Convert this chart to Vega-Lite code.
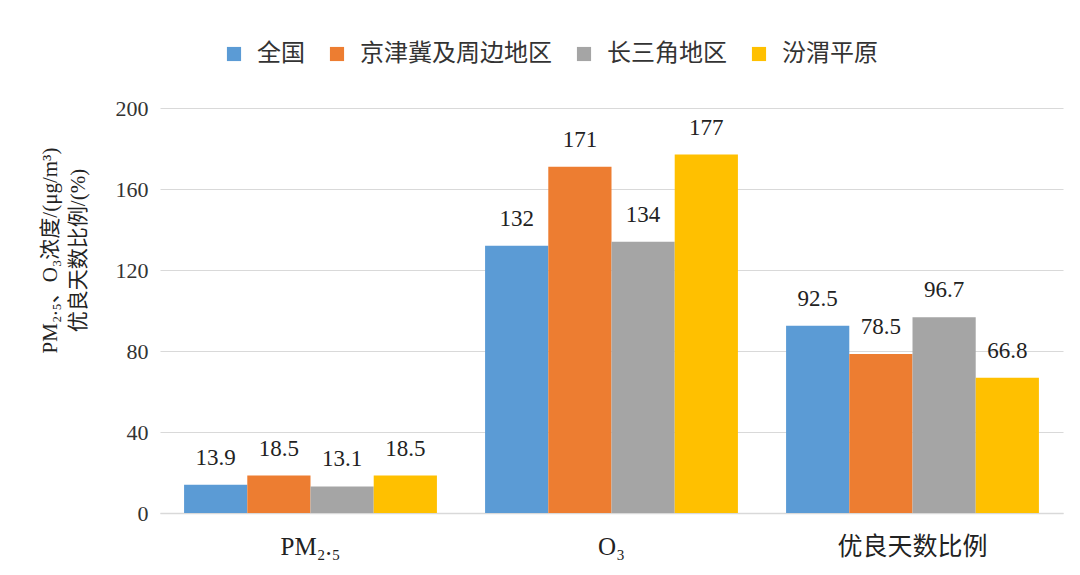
{
  "$schema": "https://vega.github.io/schema/vega-lite/v6.json",
  "width": 903,
  "height": 405,
  "autosize": {"type": "none"},
  "padding": {"left": 160, "top": 108, "right": 17, "bottom": 62},
  "background": "white",
  "config": {
    "font": "Liberation Serif, Noto Sans CJK SC",
    "view": {"stroke": null}
  },
  "data": {
    "values": [
      {"category": "PM₂.₅", "region": "全国", "value": 13.9},
      {"category": "PM₂.₅", "region": "京津冀及周边地区", "value": 18.5},
      {"category": "PM₂.₅", "region": "长三角地区", "value": 13.1},
      {"category": "PM₂.₅", "region": "汾渭平原", "value": 18.5},
      {"category": "O₃", "region": "全国", "value": 132},
      {"category": "O₃", "region": "京津冀及周边地区", "value": 171},
      {"category": "O₃", "region": "长三角地区", "value": 134},
      {"category": "O₃", "region": "汾渭平原", "value": 177},
      {"category": "优良天数比例", "region": "全国", "value": 92.5},
      {"category": "优良天数比例", "region": "京津冀及周边地区", "value": 78.5},
      {"category": "优良天数比例", "region": "长三角地区", "value": 96.7},
      {"category": "优良天数比例", "region": "汾渭平原", "value": 66.8}
    ]
  },
  "encoding": {
    "x": {
      "field": "category",
      "type": "nominal",
      "sort": ["PM₂.₅", "O₃", "优良天数比例"],
      "scale": {"paddingInner": 0.16, "paddingOuter": 0.08},
      "axis": {
        "title": null,
        "labelAngle": 0,
        "labelFontSize": 25,
        "labelColor": "#222222",
        "labelPadding": 21,
        "labelLimit": 0,
        "ticks": false,
        "domainColor": "#d9d9d9",
        "domainWidth": 1.5
      }
    },
    "xOffset": {
      "field": "region",
      "type": "nominal",
      "sort": ["全国", "京津冀及周边地区", "长三角地区", "汾渭平原"],
      "scale": {"paddingInner": 0, "paddingOuter": 0}
    },
    "y": {
      "field": "value",
      "type": "quantitative",
      "scale": {"domain": [0, 200]},
      "axis": {
        "values": [0, 40, 80, 120, 160, 200],
        "title": ["PM₂.₅、O₃浓度/(μg/m³)", "优良天数比例/(%)"],
        "titleFontSize": 21,
        "titleFontWeight": "normal",
        "titleColor": "#222222",
        "titleAngle": -90,
        "titleAlign": "center",
        "titleBaseline": "top",
        "titleX": -121,
        "titleY": 142,
        "titleLineHeight": 28,
        "labelFontSize": 22,
        "labelColor": "#333333",
        "labelPadding": 12,
        "ticks": false,
        "domain": false,
        "gridColor": "#d9d9d9",
        "gridWidth": 1.2
      }
    }
  },
  "layer": [
    {
      "mark": {"type": "bar"},
      "encoding": {
        "color": {
          "field": "region",
          "type": "nominal",
          "sort": ["全国", "京津冀及周边地区", "长三角地区", "汾渭平原"],
          "scale": {
            "domain": ["全国", "京津冀及周边地区", "长三角地区", "汾渭平原"],
            "range": ["#5b9bd5", "#ed7d31", "#a5a5a5", "#ffc000"]
          },
          "legend": {
            "title": null,
            "orient": "none",
            "direction": "horizontal",
            "legendX": 62,
            "legendY": -66,
            "symbolType": "square",
            "symbolSize": 200,
            "symbolStrokeWidth": 0,
            "labelFontSize": 24,
            "labelFont": "Noto Sans CJK SC",
            "labelColor": "#333333",
            "labelOffset": 11,
            "labelLimit": 0,
            "columnPadding": 20
          }
        }
      }
    },
    {
      "mark": {"type": "text", "baseline": "alphabetic", "dy": -20, "fontSize": 23, "font": "Liberation Serif", "color": "#222222"},
      "encoding": {
        "text": {"field": "value", "type": "quantitative"}
      }
    }
  ]
}
